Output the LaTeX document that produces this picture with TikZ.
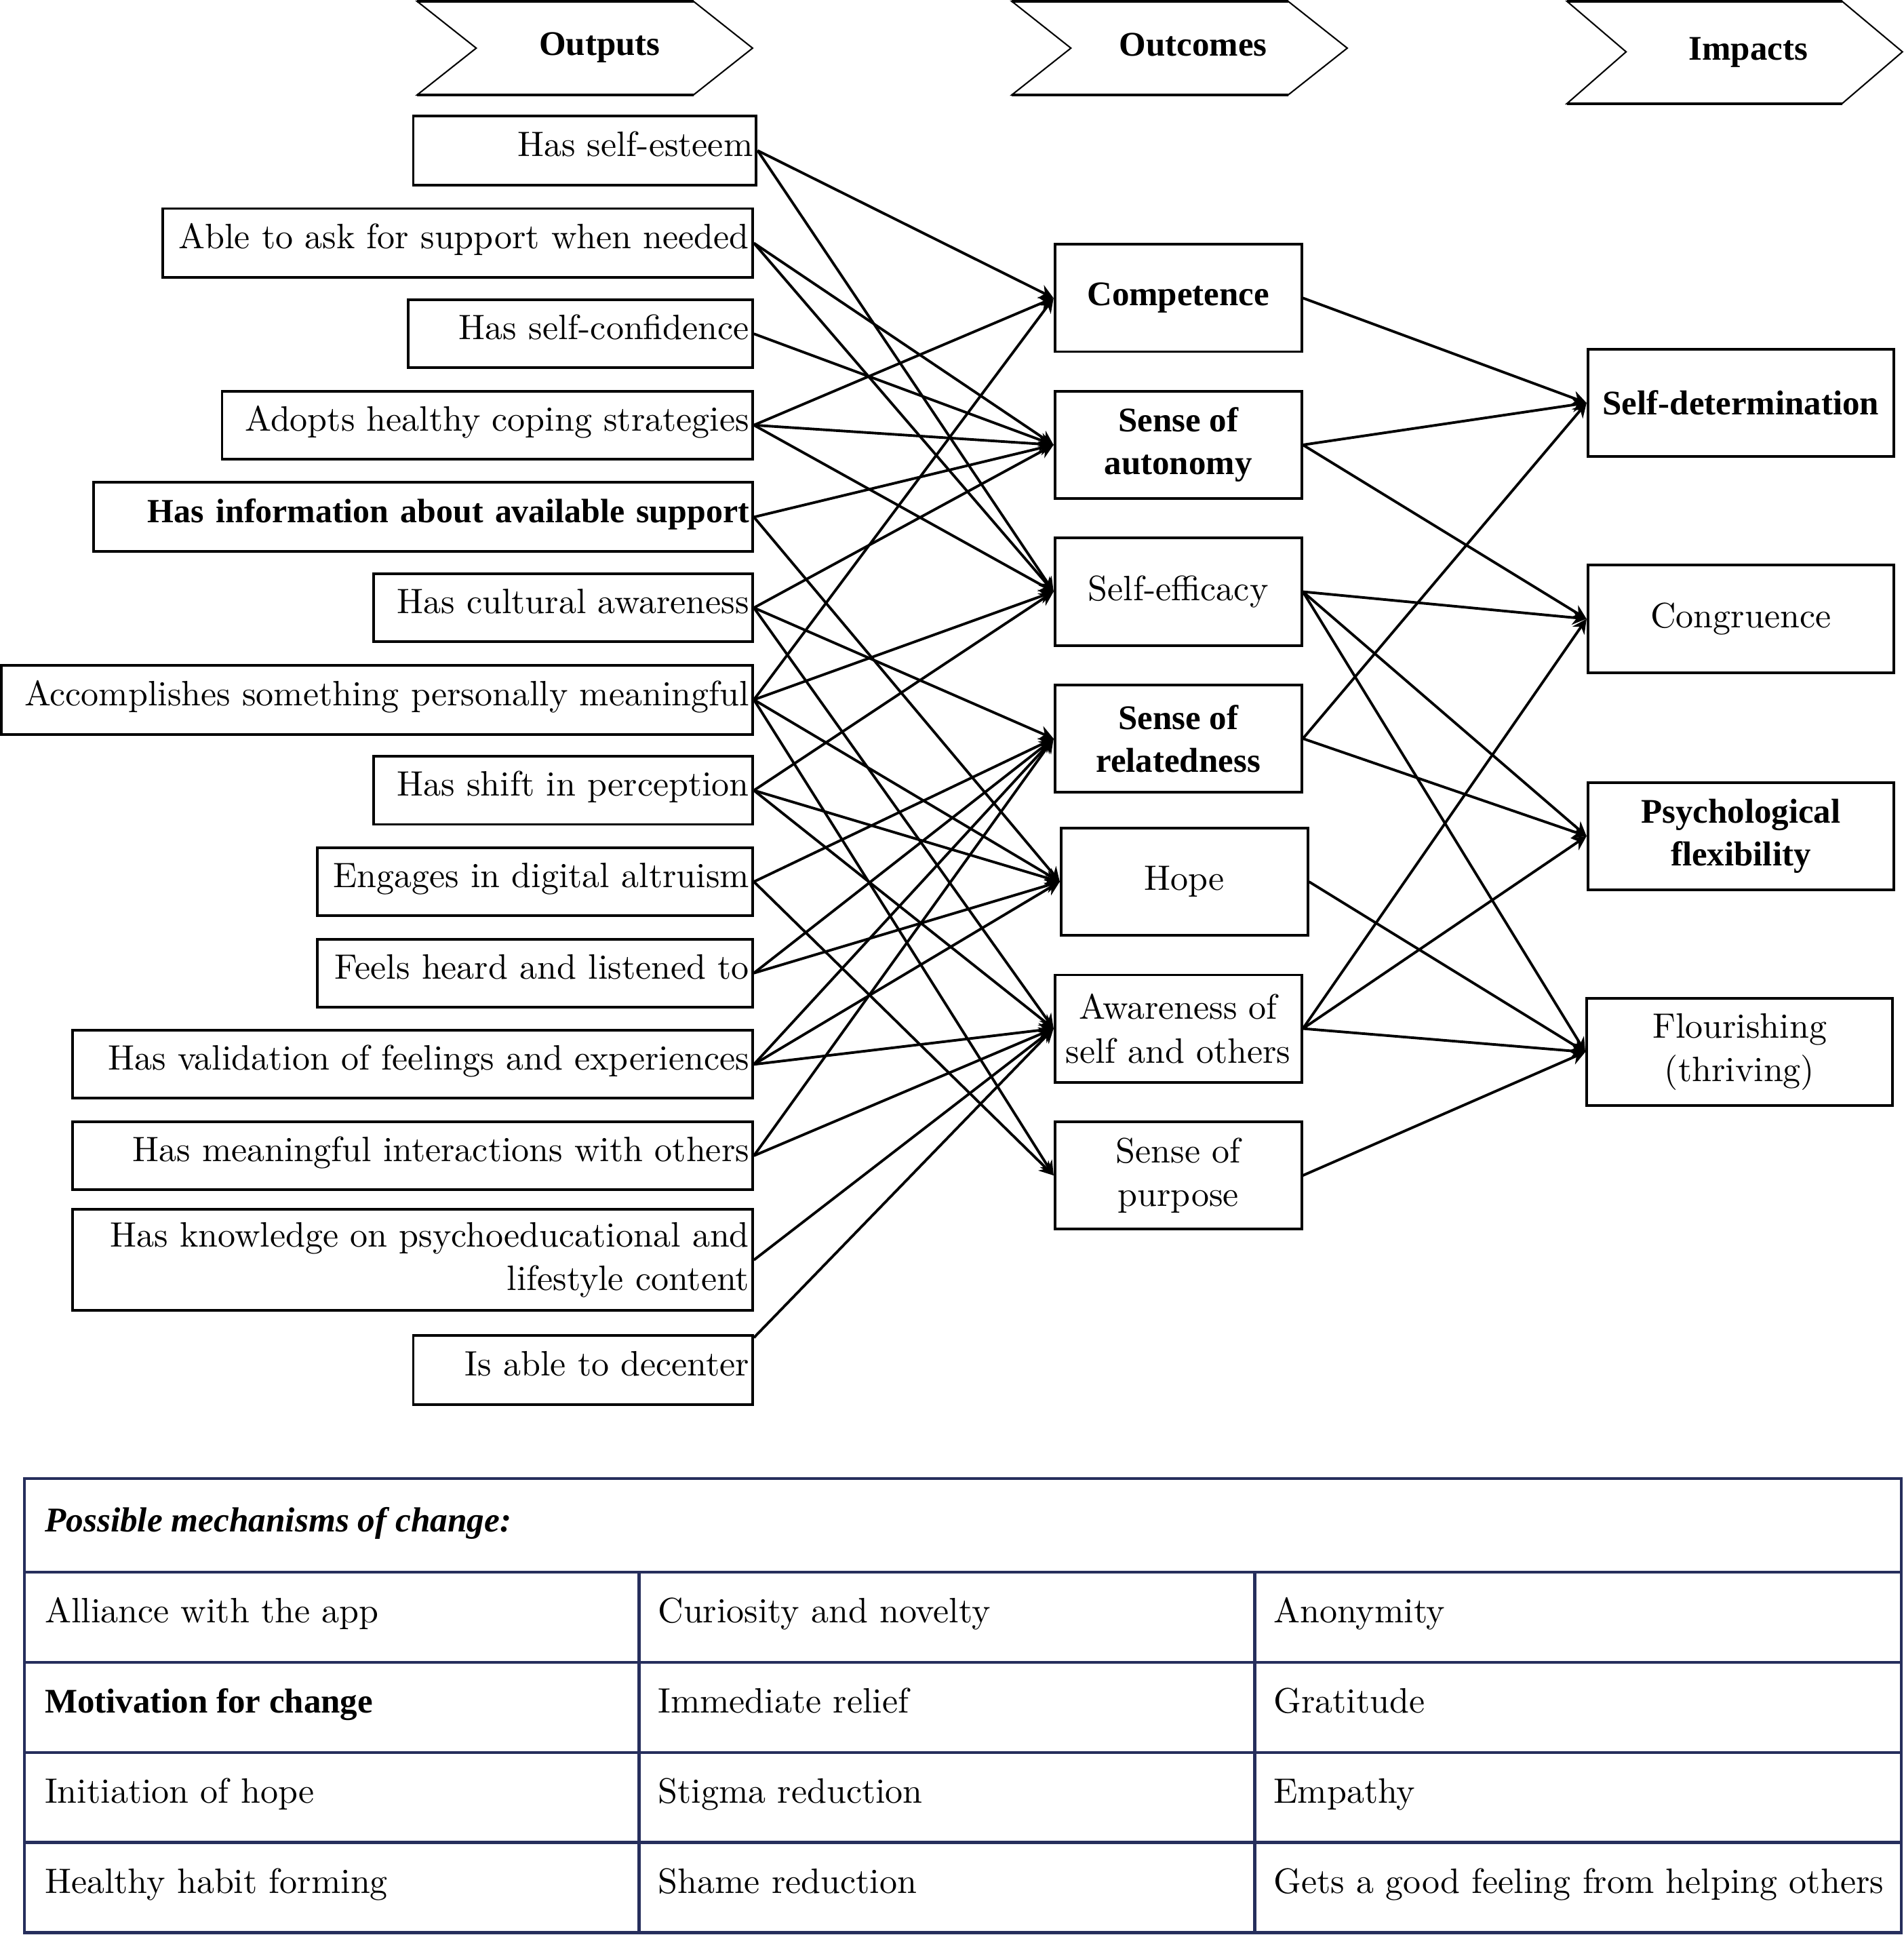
\documentclass[tikz,border=0pt]{standalone}
\usepackage{fontspec}
\setmainfont{lmroman10-regular.otf}[BoldFont=lmroman10-bold.otf, ItalicFont=lmroman10-italic.otf]
\newfontfamily\timesf{Liberation Serif}
\usetikzlibrary{arrows.meta,calc}
\definecolor{navy}{RGB}{38,46,92}
\newcommand\bt{\fontsize{14.5}{18}\selectfont\timesf\bfseries}
\newcommand\outbox[7][oneline]{%
  \pgfmathsetmacro\bw{(#4-#3)*0.0182}%
  \pgfmathsetmacro\bh{(#6-#5)*0.0182}%
  \pgfmathsetmacro\tw{(#4-#3)*0.0182-0.1}%
  \node[outbox, #1, minimum width=\bw cm, minimum height=\bh cm, text width=\tw cm] (#2) at ({(#3+#4)/2},{(#5+#6)/2}) {#7};}
\begin{document}
\begin{tikzpicture}[x=0.0182cm,y=-0.0182cm,
  font=\fontsize{14.8}{18.3}\selectfont,
  box/.style={draw, line width=1.1pt},
  outbox/.style={box, inner xsep=0.05cm, inner ysep=0pt, align=right},
  oneline/.style={text height=10.6pt, text depth=5.8pt},
  multiline/.style={},
  midbox/.style={box, inner sep=0pt, minimum width=3.64cm, minimum height=1.583cm, align=center},
  impbox/.style={box, inner sep=0pt, minimum width=4.514cm, minimum height=1.583cm, align=center},
  bold/.style={font=\bt},
  arr/.style={line width=1.1pt, -{Stealth[length=6pt,width=6pt]}},
  chev/.style={line width=0.6pt},
  chevedge/.style={line width=1.2pt},
  head/.style={font=\bt, inner sep=0pt},
  tline/.style={draw=navy, line width=1.2pt},
  cell/.style={anchor=base west, inner sep=0pt}
]
\useasboundingbox (0,0) rectangle (1543,1568);

% chevrons
\draw[chev] (338,1) -- (562,1) -- (610,39) -- (562,77) -- (338,77) -- (386,39) -- cycle;
\draw[chevedge] (338,1) -- (562,1) (338,77) -- (562,77);
\node[head] (h1) at (486,38.5) {Outputs};
\draw[chev] (820,1) -- (1044,1) -- (1092,39) -- (1044,77) -- (820,77) -- (868,39) -- cycle;
\draw[chevedge] (820,1) -- (1044,1) (820,77) -- (1044,77);
\node[head] (h2) at (967,36) {Outcomes};
\draw[chev] (1270,1) -- (1493,1) -- (1542,42) -- (1493,84) -- (1270,84) -- (1318,42) -- cycle;
\draw[chevedge] (1270,1) -- (1493,1) (1270,84) -- (1493,84);
\node[head] (h3) at (1417,42.5) {Impacts};

% outputs
\outbox{o1}{335}{613}{94}{150}{Has self-esteem}
\outbox{o2}{132}{610}{169}{225}{Able to ask for support when needed}
\outbox{o3}{331}{610}{243}{298}{Has self-confidence}
\outbox{o4}{180}{610}{317}{372}{Adopts healthy coping strategies}
\outbox{o5}{76}{610}{391}{447}{\fontsize{14.2}{18}\selectfont\timesf\bfseries Has information about available support}
\outbox{o6}{303}{610}{465}{520}{Has cultural awareness}
\outbox{o7}{1}{610}{539}{595}{Accomplishes something personally meaningful}
\outbox{o8}{303}{610}{613}{668}{Has shift in perception}
\outbox{o9}{257}{610}{687}{742}{Engages in digital altruism}
\outbox{o10}{257}{610}{761}{816}{Feels heard and listened to}
\outbox{o11}{59}{610}{835}{890}{Has validation of feelings and experiences}
\outbox{o12}{59}{610}{909}{964}{Has meaningful interactions with others}
\outbox[multiline]{o13}{59}{610}{980}{1062}{Has knowledge on psychoeducational and\\lifestyle content}
\outbox{o14}{335}{610}{1082}{1138}{Is able to decenter}

% outcomes
\node[midbox, bold] (c1) at (955,241.5) {Competence};
\node[midbox, bold] (c2) at (955,360.5) {Sense of\\autonomy};
\node[midbox] (c3) at (955,479.5) {Self-efficacy};
\node[midbox, bold] (c4) at (955,598.5) {Sense of\\relatedness};
\node[midbox] (c5) at (960,714.5) {Hope};
\node[midbox] (c6) at (955,833.5) {Awareness of\\self and others};
\node[midbox] (c7) at (955,952.5) {Sense of\\purpose};

% impacts
\node[impbox, bold] (i1) at (1411,326.5) {Self-determination};
\node[impbox] (i2) at (1411,501.5) {Congruence};
\node[impbox, bold] (i3) at (1411,677.5) {Psychological\\flexibility};
\node[impbox] (i4) at (1410,852.5) {Flourishing\\(thriving)};

% outputs -> outcomes
\foreach \s/\t in {o1/c1,o1/c3,o2/c2,o2/c3,o3/c2,o4/c1,o4/c2,o4/c3,
  o5/c2,o5/c5,o6/c2,o6/c4,o6/c6,o7/c1,o7/c3,o7/c5,o7/c7,
  o8/c3,o8/c5,o8/c6,o9/c4,o9/c7,o10/c4,o10/c5,
  o11/c4,o11/c5,o11/c6,o12/c4,o12/c6,o13/c6}
  \draw[arr] (\s.east) -- (\t.west);
\coordinate (o14s) at ($(o14.north east)+(0,3)$);
\draw[arr] (o14s) -- (c6.west);

% outcomes -> impacts
\foreach \s/\t in {c1/i1,c2/i1,c2/i2,c3/i2,c3/i3,c3/i4,c4/i1,c4/i3,
  c5/i4,c6/i2,c6/i3,c6/i4,c7/i4}
  \draw[arr] (\s.east) -- (\t.west);

% table
\draw[tline] (20,1198) rectangle (1541,1566);
\foreach \yy in {1274,1347,1420,1493} \draw[tline] (20,\yy) -- (1541,\yy);
\draw[tline] (518,1274) -- (518,1566);
\draw[tline] (1017,1274) -- (1017,1566);
\node[cell] (t0) at (36,1241) {\fontsize{14.6}{18}\selectfont\timesf\bfseries\itshape Possible mechanisms of change:};
\node[cell] (t11) at (36,1315) {Alliance with the app};
\node[cell] (t12) at (533,1315) {Curiosity and novelty};
\node[cell] (t13) at (1032,1315) {Anonymity};
\node[cell] (t21) at (36,1388) {\bt Motivation for change};
\node[cell] (t22) at (533,1388) {Immediate relief};
\node[cell] (t23) at (1032,1388) {Gratitude};
\node[cell] (t31) at (36,1461) {Initiation of hope};
\node[cell] (t32) at (533,1461) {Stigma reduction};
\node[cell] (t33) at (1032,1461) {Empathy};
\node[cell] (t41) at (36,1534) {Healthy habit forming};
\node[cell] (t42) at (533,1534) {Shame reduction};
\node[cell] (t43) at (1032,1534) {Gets a good feeling from helping others};
\end{tikzpicture}
\end{document}
